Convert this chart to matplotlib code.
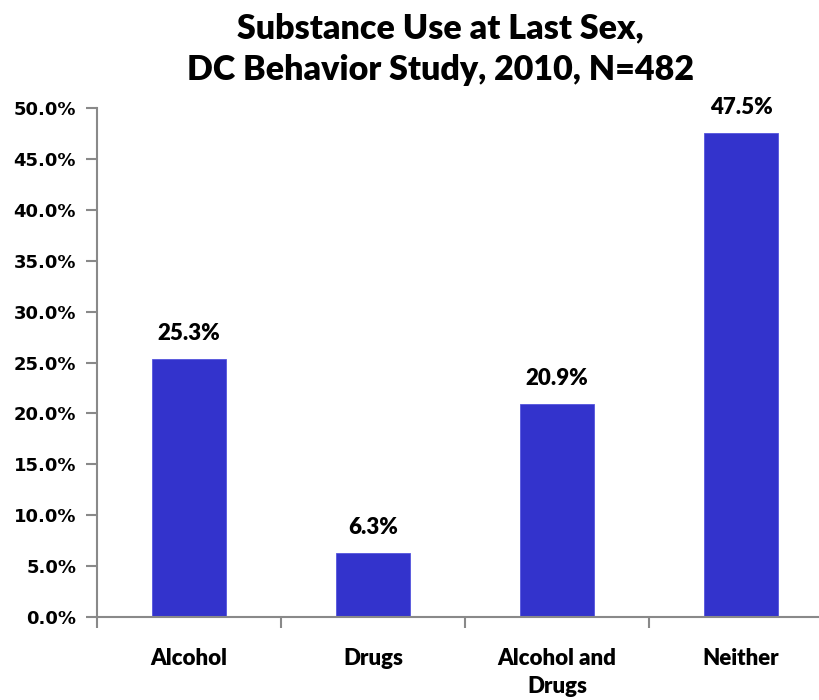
import matplotlib
matplotlib.use("Agg")
import matplotlib.pyplot as plt
import numpy as np
from matplotlib.ticker import FuncFormatter, MultipleLocator, FixedLocator

categories = ["Alcohol", "Drugs", "Alcohol and\nDrugs", "Neither"]
values = [25.3, 6.3, 20.9, 47.5]
title = "Substance Use at Last Sex,\nDC Behavior Study, 2010, N=482"

bar_color = "#3333CC"
spine_color = "#898989"
label_font = "Lato"
label_weight = 800

fig = plt.figure(figsize=(8.2, 7.0), dpi=100)
ax = fig.add_axes([97/820, 83/700, 736/820, 509/700])

x = np.arange(len(categories))
ax.bar(x, values, width=0.4, color=bar_color, edgecolor="#5555DD", linewidth=0.6, zorder=2)

ax.set_xlim(-0.5, len(categories) - 0.5)
ax.set_ylim(0, 50)
ax.yaxis.set_major_locator(MultipleLocator(5))
ax.yaxis.set_major_formatter(FuncFormatter(lambda v, p: f"{v:.1f}%"))

for sp in ["top", "right"]:
    ax.spines[sp].set_visible(False)
for sp in ["left", "bottom"]:
    ax.spines[sp].set_color(spine_color)
    ax.spines[sp].set_linewidth(1.5)

ax.tick_params(axis="y", direction="out", length=8, width=1.5, color=spine_color, pad=7)
for lab in ax.get_yticklabels():
    lab.set_fontfamily("DejaVu Sans")
    lab.set_fontweight("bold")
    lab.set_fontsize(13)

ax.xaxis.set_major_locator(FixedLocator(np.arange(len(categories) + 1) - 0.5))
ax.xaxis.set_major_formatter(FuncFormatter(lambda v, p: ""))
ax.xaxis.set_minor_locator(FixedLocator(x))
ax.set_xticklabels(categories, minor=True)
ax.tick_params(axis="x", which="major", direction="out", length=8, width=1.5, color=spine_color)
ax.tick_params(axis="x", which="minor", length=0, pad=22)
for lab in ax.get_xticklabels(minor=True):
    lab.set_fontfamily(label_font)
    lab.set_fontweight(label_weight)
    lab.set_fontsize(16)
    lab.set_verticalalignment("top")
    lab.set_linespacing(1.45)

for xi, v in zip(x, values):
    ax.annotate(f"{v:.1f}%", (xi, v), xytext=(0, 11), textcoords="offset points",
                ha="center", va="bottom", fontfamily=label_font, fontweight=label_weight, fontsize=16)

fig.suptitle(title, x=0.537, y=0.982, va="top", fontfamily=label_font, fontweight=label_weight,
             fontsize=24.5, linespacing=1.35)

fig.savefig("out.png", dpi=100)
